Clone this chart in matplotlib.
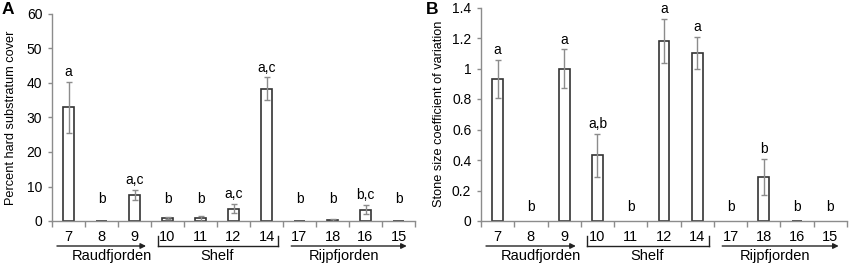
import numpy as np
import matplotlib
matplotlib.use("Agg")
import matplotlib.pyplot as plt
import matplotlib.transforms as mtransforms
from matplotlib.ticker import FuncFormatter

plt.rcParams['font.family'] = ['Liberation Sans', 'DejaVu Sans']

stations = ['7', '8', '9', '10', '11', '12', '14', '17', '18', '16', '15']

# panel A: percent hard substratum cover
cover = [33.0, 0.1, 7.6, 1.0, 0.8, 3.6, 38.4, 0.1, 0.3, 3.3, 0.1]
cover_err = [7.4, 0.0, 1.4, 0.3, 0.7, 1.3, 3.2, 0.0, 0.2, 1.3, 0.0]
cover_letters = ['a', 'b', 'a,c', 'b', 'b', 'a,c', 'a,c', 'b', 'b', 'b,c', 'b']

# panel B: stone size coefficient of variation (nan = no bar drawn)
cv = [0.93, np.nan, 1.0, 0.43, np.nan, 1.18, 1.10, np.nan, 0.29, 0.003, np.nan]
cv_err = [0.126, 0.0, 0.125, 0.14, 0.0, 0.145, 0.105, 0.0, 0.118, 0.0, 0.0]
cv_letters = ['a', 'b', 'a', 'a,b', 'b', 'a', 'a', 'b', 'b', 'b', 'b']

groups = ['Raudfjorden', 'Shelf', 'Rijpfjorden']

W, H, DPI = 850, 266, 100
fig = plt.figure(figsize=(W / DPI, H / DPI), dpi=DPI)

def px_axes(l, t, r, b):
    return fig.add_axes([l / W, 1 - b / H, (r - l) / W, (b - t) / H])

axA = px_axes(52, 14, 415, 221)
axB = px_axes(481, 7.5, 847, 221)

GREY = '#8c8c8c'
INK = '#222222'


def below(ax, px):
    # x in data units, y = px pixels under the axes bottom
    base = mtransforms.blended_transform_factory(ax.transData, ax.transAxes)
    return base + mtransforms.ScaledTranslation(0, -px / DPI, fig.dpi_scale_trans)


def draw(ax, vals, errs, letters, ymax, ystep, floor):
    x = np.arange(len(stations))
    v = np.array(vals, dtype=float)
    e = np.array(errs, dtype=float)
    has = ~np.isnan(v)
    ax.bar(x[has], v[has], width=0.32, facecolor='white', edgecolor='#333333',
           linewidth=1.2, zorder=2)
    ok = has & (e > 0)
    ax.errorbar(x[ok], v[ok], yerr=e[ok], fmt='none', ecolor=GREY, elinewidth=1.0,
                capsize=2.5, capthick=1.0, zorder=3)
    for xi, vi, ei, lab in zip(x, v, e, letters):
        top = 0 if np.isnan(vi) else vi + ei
        ax.annotate(lab, (xi, max(top, floor)), xytext=(0, 2), textcoords='offset points',
                    ha='center', va='bottom', fontsize=10)

    ax.set_xlim(-0.5, len(stations) - 0.5)
    ax.set_ylim(0, ymax)
    ax.set_yticks(np.arange(0, ymax + ystep / 2, ystep))
    ax.yaxis.set_major_formatter(FuncFormatter(lambda t, p: '%g' % round(t, 1)))
    ax.tick_params(axis='y', direction='out', length=3, color=GREY, width=1,
                   labelsize=10, pad=4)
    # ticks sit on category boundaries, labels in the centres
    ax.set_xticks(np.arange(-0.5, len(stations)))
    ax.set_xticklabels([])
    ax.tick_params(axis='x', direction='out', length=4, color=GREY, width=1)
    for xi, s in zip(x, stations):
        ax.text(xi, 0, s, transform=below(ax, 16), ha='center', va='center', fontsize=10.5)

    for sp in ['top', 'right']:
        ax.spines[sp].set_visible(False)
    for sp in ['left', 'bottom']:
        ax.spines[sp].set_color(GREY)
        ax.spines[sp].set_linewidth(1)

    # arrows for the two fjords, bracket for the shelf
    t = below(ax, 25)
    for x0, x1 in [(-0.35, 2.35), (6.75, 10.25)]:
        ax.annotate('', xy=(x1, 0), xytext=(x0, 0), xycoords=t, textcoords=t,
                    arrowprops=dict(arrowstyle='-|>', color=INK, lw=1, mutation_scale=8,
                                    shrinkA=0, shrinkB=0),
                    annotation_clip=False)
    ax.add_line(plt.Line2D([2.7, 6.35], [0, 0], transform=t, color=INK, lw=1, clip_on=False))
    hA = ax.get_position().height * H
    base = mtransforms.blended_transform_factory(ax.transData, ax.transAxes)
    for xb in [2.7, 6.35]:
        ax.add_line(plt.Line2D([xb, xb], [-25 / hA, -15 / hA], transform=base, color=INK,
                               lw=1, clip_on=False))
    for xc, g in zip([1.3, 4.5, 8.35], groups):
        ax.text(xc, 0, g, transform=below(ax, 35), ha='center', va='center', fontsize=10.5)


draw(axA, cover, cover_err, cover_letters, 60, 10, 3.6)
axA.set_ylabel('Percent hard substratum cover', fontsize=9.2, labelpad=7)
draw(axB, cv, cv_err, cv_letters, 1.4, 0.2, 0.03)
axB.set_ylabel('Stone size coefficient of variation', fontsize=9.2, labelpad=5)

fig.text(2 / W, 1 - 9 / H, 'A', fontsize=12.5, fontweight='bold', va='center', ha='left')
fig.text(426 / W, 1 - 9 / H, 'B', fontsize=12.5, fontweight='bold', va='center', ha='left')

fig.savefig('out.png', dpi=DPI)
